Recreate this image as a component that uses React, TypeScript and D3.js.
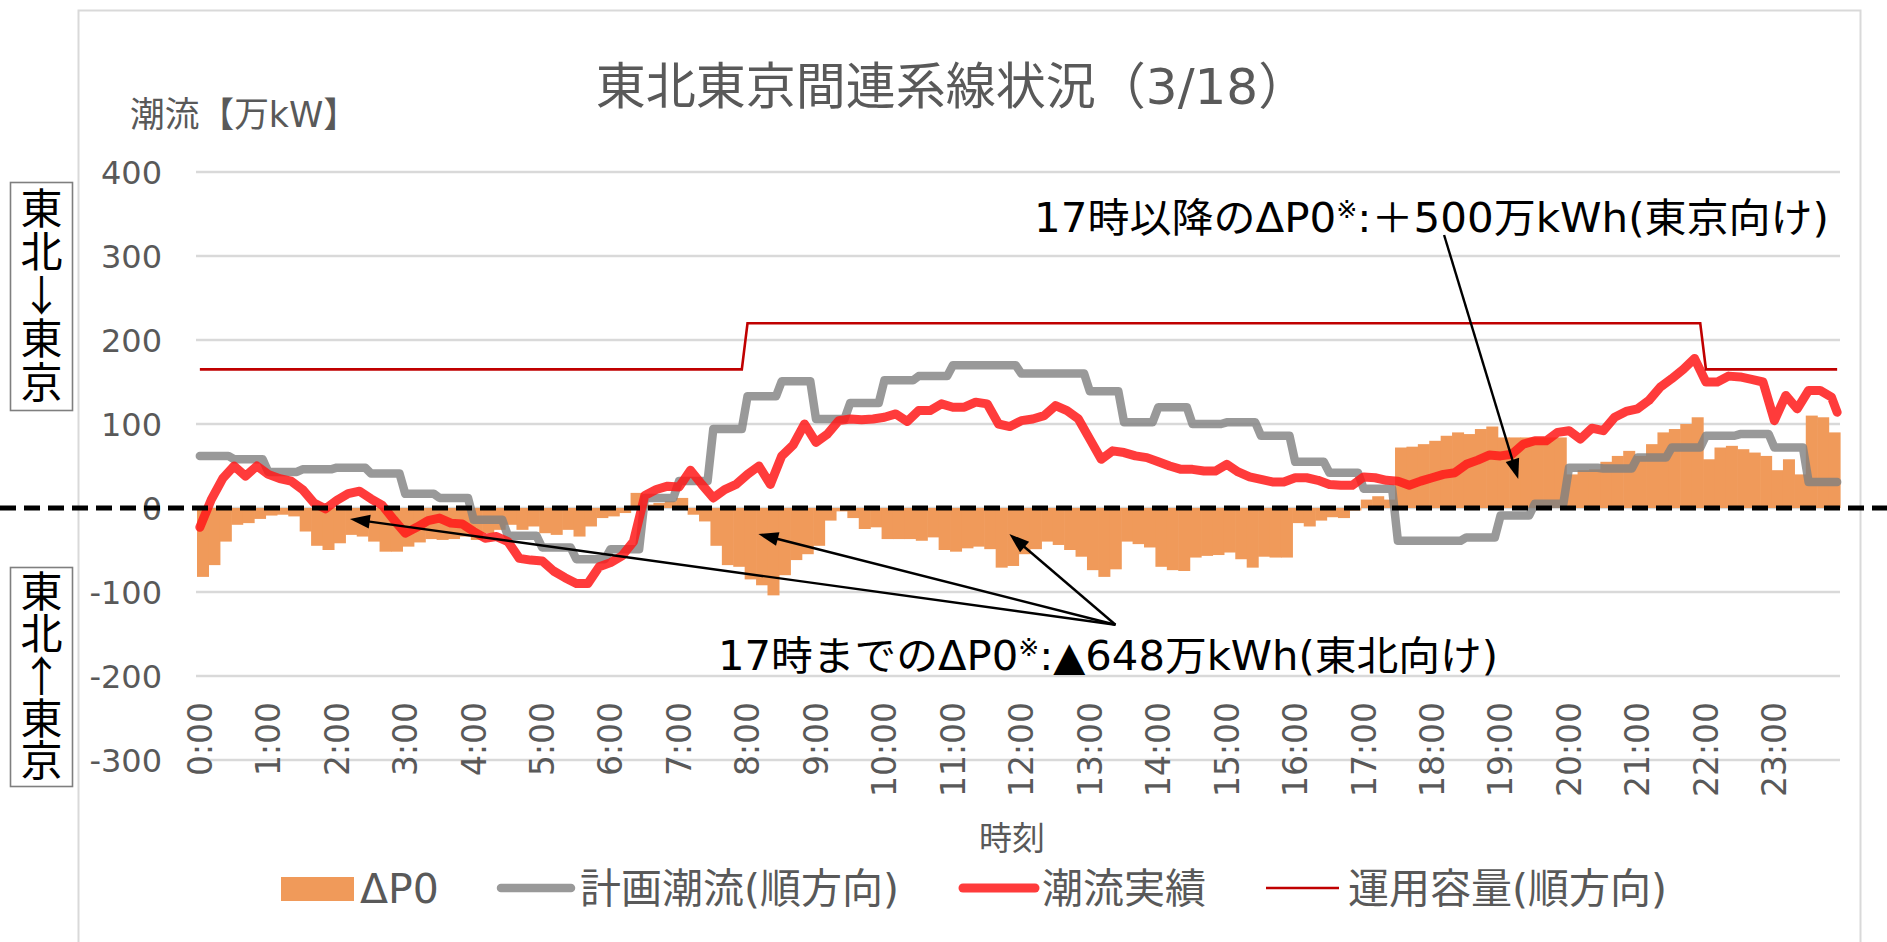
import React, { useEffect, useRef } from 'react';
import * as d3 from 'd3';

const W = 1887, H = 942;

const yTicks = [400, 300, 200, 100, 0, -100, -200, -300];
const hourLabels = [
  '0:00', '1:00', '2:00', '3:00', '4:00', '5:00', '6:00', '7:00', '8:00', '9:00', '10:00', '11:00',
  '12:00', '13:00', '14:00', '15:00', '16:00', '17:00', '18:00', '19:00', '20:00', '21:00', '22:00', '23:00',
];

// ΔP0, 10-minute columns from 0:00
const deltaP0 = [
  -82, -68, -40, -20, -18, -13, -9, -8, -10, -28,
  -45, -50, -42, -32, -34, -40, -52, -52, -46, -41,
  -37, -38, -37, -34, -38, -30, -26, -20, -26, -22,
  -30, -32, -26, -34, -22, -12, -10, -6, 18, 4,
  6, 8, 12, -8, -16, -45, -68, -70, -85, -92,
  -104, -80, -62, -55, -45, -15, -4, -12, -25, -23,
  -37, -37, -37, -39, -35, -50, -52, -48, -46, -49,
  -71, -69, -55, -49, -40, -44, -50, -58, -74, -82,
  -73, -40, -43, -47, -70, -74, -75, -59, -57, -56,
  -53, -61, -71, -58, -59, -59, -18, -22, -15, -11,
  -12, -3, 10, 14, 10, 72, 73, 76, 80, 86,
  90, 88, 94, 97, 84, 84, 84, 84, 84, 84,
  40, 45, 46, 55, 62, 68, 62, 76, 90, 94,
  100, 108, 58, 72, 74, 70, 66, 62, 45, 58,
  40, 110, 108, 90,
];

// 計画潮流, 30-minute steps from 0:00
const plannedFlow = [
  62, 58, 43, 46, 48, 41, 17, 12, -14, -33,
  -47, -61, -49, 12, 32, 94, 133, 151, 106, 125,
  152, 157, 170, 170, 160, 160, 139, 102, 120, 100,
  102, 86, 55, 42, 23, -39, -39, -35, -9, 5,
  48, 47, 60, 72, 86, 88, 72, 31,
];

// 潮流実績, every 10 minutes from 0:00, last value at 23:55
const actualFlow = [
  -23, 10, 35, 50, 38, 50, 40, 35, 32, 22,
  6, -1, 9, 17, 20, 11, 3, -14, -30, -23,
  -15, -12, -18, -19, -28, -36, -34, -40, -60, -62,
  -63, -75, -83, -90, -90, -70, -65, -57, -40, 15,
  22, 26, 25, 45, 28, 12, 22, 28, 40, 50,
  28, 62, 75, 100, 78, 88, 104, 106, 105, 106,
  108, 112, 103, 116, 116, 124, 120, 120, 126, 124,
  100, 97, 104, 106, 110, 122, 116, 106, 82, 58,
  68, 66, 62, 60, 55, 50, 46, 46, 44, 44,
  52, 43, 37, 34, 31, 31, 36, 36, 33, 28,
  27, 27, 37, 36, 33, 32, 27, 32, 36, 40,
  42, 52, 57, 63, 62, 64, 76, 80, 80, 90,
  92, 82, 95, 92, 108, 115, 118, 128, 144, 154,
  165, 178, 150, 150, 157, 156, 153, 150, 104, 134,
  118, 140, 140, 132, 114,
];

// 運用容量
const capacityFrom = ['0:00', '8:00', '22:00'];
const capacityLevels = [165, 220, 165];

const legendLabels = ['ΔP0', '計画潮流(順方向)', '潮流実績', '運用容量(順方向)'];

const toMin = (s: string) => {
  const [h, m] = s.split(':').map(Number);
  return h * 60 + m;
};

const App = () => {
  const ref = useRef<SVGSVGElement>(null);

  useEffect(() => {
    const svg = d3.select(ref.current);
    svg.selectAll('*').remove();

    const x = d3.scaleLinear().domain([0, 1440]).range([197, 1840]);
    const y = d3.scaleLinear().domain([-300, 400]).range([760, 172]);
    const txt = '#595959';
    const latin = "'DejaVu Sans', 'Noto Sans CJK JP', sans-serif";
    const jp = "'Noto Sans CJK JP', sans-serif";
    const grayLine = 'rgba(128,128,128,0.8)';
    const redLine = 'rgba(255,25,25,0.85)';

    svg.append('rect').attr('width', W).attr('height', H).attr('fill', '#fff');
    svg.append('rect')
      .attr('x', 78.5).attr('y', 10.5).attr('width', 1782).attr('height', 1000)
      .attr('fill', 'none').attr('stroke', '#d9d9d9').attr('stroke-width', 2);

    // title
    svg.append('text')
      .attr('x', 952).attr('y', 104).attr('text-anchor', 'middle')
      .attr('font-family', latin).attr('font-size', 50).attr('fill', txt)
      .text('東北東京間連系線状況（3/18）');

    svg.append('text')
      .attr('x', 130).attr('y', 127)
      .attr('font-family', latin).attr('font-size', 35).attr('fill', txt)
      .attr('textLength', 228).attr('lengthAdjust', 'spacingAndGlyphs')
      .text('潮流【万kW】');

    // grid + y labels
    svg.append('g').selectAll('line').data(yTicks).join('line')
      .attr('x1', x(0) - 1).attr('x2', x(1440))
      .attr('y1', d => y(d)).attr('y2', d => y(d))
      .attr('stroke', '#d9d9d9').attr('stroke-width', 2.5);
    svg.append('g').selectAll('text').data(yTicks).join('text')
      .attr('x', 162).attr('y', d => y(d)).attr('dy', '0.36em')
      .attr('text-anchor', 'end')
      .attr('font-family', latin).attr('font-size', 32).attr('fill', txt)
      .text(d => d);

    // x labels
    svg.append('g').selectAll('text').data(hourLabels).join('text')
      .attr('transform', d => `translate(${x(toMin(d) + 2.5)},702) rotate(-90)`)
      .attr('dy', '0.36em').attr('text-anchor', 'end')
      .attr('font-family', latin).attr('font-size', 33).attr('fill', txt)
      .text(d => d);

    svg.append('text')
      .attr('x', 1012).attr('y', 850).attr('text-anchor', 'middle')
      .attr('font-family', jp).attr('font-size', 33).attr('fill', txt)
      .text('時刻');

    // ΔP0 columns
    svg.append('g').selectAll('rect').data(deltaP0).join('rect')
      .attr('x', (d, i) => x(i * 10))
      .attr('width', (d, i) => x(i * 10 + 10) - x(i * 10) + 0.6)
      .attr('y', d => Math.min(y(d), y(0)))
      .attr('height', d => Math.abs(y(d) - y(0)))
      .attr('fill', '#f09a5a');

    const line = d3.line<[number, number]>().x(d => x(d[0])).y(d => y(d[1]));

    const plannedPts: [number, number][] = d3.range(288)
      .map(i => [i * 5 + 2.5, plannedFlow[Math.floor(i / 6)]]);
    svg.append('path').attr('d', line(plannedPts))
      .attr('fill', 'none').attr('stroke', grayLine)
      .attr('stroke-width', 8.5).attr('stroke-linejoin', 'round').attr('stroke-linecap', 'round');

    const actualPts: [number, number][] = actualFlow
      .map((v, k) => [(k < 144 ? k * 10 : 1435) + 2.5, v]);
    svg.append('path').attr('d', line(actualPts))
      .attr('fill', 'none').attr('stroke', redLine)
      .attr('stroke-width', 9).attr('stroke-linejoin', 'round').attr('stroke-linecap', 'round');

    const capStarts = capacityFrom.map(toMin);
    const capPts: [number, number][] = d3.range(288).map(i => {
      const j = d3.bisectRight(capStarts, i * 5) - 1;
      return [i * 5 + 2.5, capacityLevels[j]];
    });
    svg.append('path').attr('d', line(capPts))
      .attr('fill', 'none').attr('stroke', '#c00000').attr('stroke-width', 2.6);

    // zero line
    svg.append('line')
      .attr('x1', 0).attr('x2', W).attr('y1', y(0)).attr('y2', y(0))
      .attr('stroke', '#000').attr('stroke-width', 5).attr('stroke-dasharray', '16 8');

    // annotation arrows (data coords: minutes, value)
    const arrow = (from: [number, number], to: [number, number]) => {
      const x1 = x(from[0]), y1 = y(from[1]), x2 = x(to[0]), y2 = y(to[1]);
      const len = Math.hypot(x2 - x1, y2 - y1);
      const ux = (x2 - x1) / len, uy = (y2 - y1) / len;
      const hl = 20, hw = 7;
      const bx = x2 - ux * hl, by = y2 - uy * hl;
      svg.append('line').attr('x1', x1).attr('y1', y1).attr('x2', bx + ux * 2).attr('y2', by + uy * 2)
        .attr('stroke', '#000').attr('stroke-width', 2.4);
      svg.append('polygon')
        .attr('points', `${x2},${y2} ${bx - uy * hw},${by + ux * hw} ${bx + uy * hw},${by - ux * hw}`)
        .attr('fill', '#000');
    };
    arrow([1093, 325], [1158, 34.5]);
    const join: [number, number] = [805, -139];
    arrow(join, [134, -13]);
    arrow(join, [492, -31]);
    arrow(join, [712, -31]);

    const note = (xx: number, yy: number, len: number, a: string, b: string) => {
      const t = svg.append('text').attr('x', xx).attr('y', yy)
        .attr('font-family', latin).attr('font-size', 40).attr('fill', '#000')
        .attr('textLength', len).attr('lengthAdjust', 'spacingAndGlyphs');
      t.append('tspan').text(a);
      t.append('tspan').attr('font-size', 24).attr('dy', -14).text('※');
      t.append('tspan').attr('dy', 14).text(b);
    };
    note(1034, 232, 795, '17時以降のΔP0', ':＋500万kWh(東京向け)');
    note(718, 670, 780, '17時までのΔP0', ':▲648万kWh(東北向け)');

    // direction boxes, vertical text
    const box = (top: number, bottom: number, label: string, start: number, spacing: number) => {
      svg.append('rect').attr('x', 10.5).attr('y', top + 0.5).attr('width', 62).attr('height', bottom - top)
        .attr('fill', 'none').attr('stroke', '#7f7f7f').attr('stroke-width', 1.6);
      svg.append('text').attr('x', 41.5).attr('y', start)
        .style('writing-mode', 'vertical-rl').style('text-orientation', 'upright')
        .attr('font-family', jp).attr('font-size', 42).attr('letter-spacing', spacing)
        .attr('fill', '#000')
        .text(label);
    };
    box(182, 410, '東北↓東京', 187, 1.5);
    box(567, 786, '東北↑東京', 570, 0.3);

    // legend
    const ly = 888;
    const lg = svg.append('g').attr('font-family', latin).attr('font-size', 41).attr('fill', txt);
    lg.append('rect').attr('x', 281).attr('y', 877).attr('width', 73).attr('height', 24).attr('fill', '#f09a5a');
    lg.append('line').attr('x1', 501).attr('x2', 571).attr('y1', ly).attr('y2', ly)
      .attr('stroke', grayLine).attr('stroke-width', 8.5).attr('stroke-linecap', 'round');
    lg.append('line').attr('x1', 963).attr('x2', 1035).attr('y1', ly).attr('y2', ly)
      .attr('stroke', redLine).attr('stroke-width', 9).attr('stroke-linecap', 'round');
    lg.append('line').attr('x1', 1266).attr('x2', 1339).attr('y1', ly).attr('y2', ly)
      .attr('stroke', '#c00000').attr('stroke-width', 2.6);
    const lx = [360, 580, 1042, 1348];
    legendLabels.forEach((s, i) => {
      lg.append('text').attr('x', lx[i]).attr('y', 903).text(s);
    });
  }, []);

  return (
    <svg
      ref={ref}
      width={W}
      height={H}
      style={{ position: 'absolute', left: 0, top: 0, display: 'block' }}
    />
  );
};

export default App;
